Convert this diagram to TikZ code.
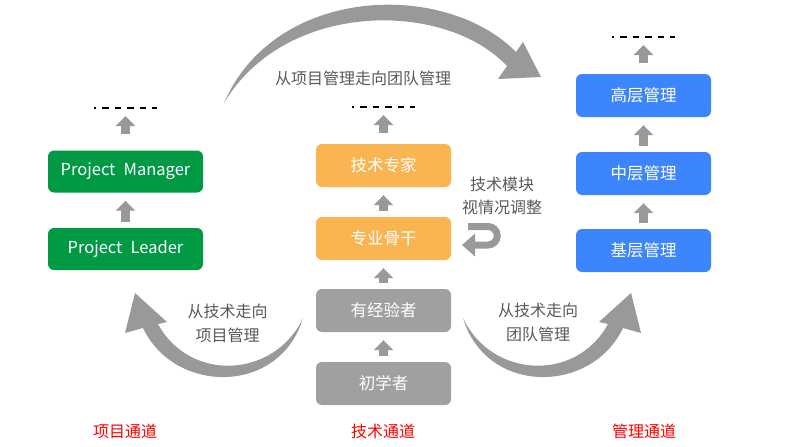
\documentclass[tikz,border=0pt]{standalone}
\usepackage{fontspec}
\setmainfont{Noto Sans CJK SC}
\usetikzlibrary{arrows.meta}
\definecolor{pmGreen}{HTML}{009944}
\definecolor{techOrange}{HTML}{F8B551}
\definecolor{techGray}{HTML}{A0A0A0}
\definecolor{mgmtBlue}{HTML}{3D85FD}
\definecolor{arrowGray}{HTML}{999999}
\definecolor{noteGray}{HTML}{595959}

\begin{document}
\begin{tikzpicture}[x=1pt, y=-1pt,
    stageBox/.style={rectangle, rounded corners=6pt, minimum width=135pt, minimum height=43pt, inner sep=0pt, text=white, font=\fontsize{16.5}{19}\selectfont},
    pmBox/.style={stageBox, fill=pmGreen, minimum width=155pt, minimum height=42pt},
    techBox/.style={stageBox, fill=techOrange},
    baseBox/.style={stageBox, fill=techGray},
    mgmtBox/.style={stageBox, fill=mgmtBlue},
    upArrow/.style={draw=arrowGray, line width=9pt, -{Triangle[length=10pt,width=19pt]}, shorten <=6pt, shorten >=8pt},
    dashLine/.style={draw=black, line width=1.1pt, dash pattern=on 6.5pt off 6pt, dash phase=4.5pt},
    noteText/.style={text=noteGray, align=center, font=\fontsize{16}{23.5}\selectfont},
    chanText/.style={text=red, font=\fontsize{16}{19}\selectfont}
]
    \useasboundingbox (0,0) rectangle (795,447);

    % project channel
    \node[pmBox] (pm) at (125.5,171.5) {Project\hspace{0.5em}Manager};
    \node[pmBox] (pl) at (125.5,249) {Project\hspace{0.5em}Leader};
    \coordinate (pmTop) at (125.5,108);

    % technical channel
    \node[techBox] (expert) at (383.5,165.5) {技术专家};
    \node[techBox] (core) at (383.5,238.5) {专业骨干};
    \node[baseBox] (senior) at (383.5,310.5) {有经验者};
    \node[baseBox] (novice) at (383.5,383.5) {初学者};
    \coordinate (expertTop) at (383.5,107);

    % management channel
    \node[mgmtBox] (high) at (643.5,95.5) {高层管理};
    \node[mgmtBox] (middle) at (643.5,173.5) {中层管理};
    \node[mgmtBox] (basic) at (643.5,250.5) {基层管理};
    \coordinate (highTop) at (643.5,37);

    \draw[upArrow] (pl) -- (pm);
    \draw[upArrow, shorten <=16pt] (pm) -- (pmTop);
    \draw[upArrow] (novice) -- (senior);
    \draw[upArrow] (senior) -- (core);
    \draw[upArrow] (core) -- (expert);
    \draw[upArrow, shorten <=11pt] (expert) -- (expertTop);
    \draw[upArrow] (basic) -- (middle);
    \draw[upArrow] (middle) -- (high);
    \draw[upArrow, shorten <=11pt] (high) -- (highTop);

    \draw[dashLine] ([xshift=-31.5pt]pmTop) -- ([xshift=31.5pt]pmTop);
    \draw[dashLine] ([xshift=-31.5pt]expertTop) -- ([xshift=31.5pt]expertTop);
    \draw[dashLine] ([xshift=-31.5pt]highTop) -- ([xshift=31.5pt]highTop);

    % big curved arrows
    \fill[arrowGray] (224,103) .. controls (275,-15) and (445,-20) .. (516,52) -- (523,42) -- (541,77) -- (498,79) -- (507,66) .. controls (445,0) and (285,0) .. cycle;
    \fill[arrowGray] (303,318) .. controls (280,395) and (175,395) .. (143,328) -- (125,333) -- (135,293) -- (167,322) -- (158,324) .. controls (190,383) and (275,378) .. cycle;
    \fill[arrowGray] (463,318) .. controls (486,395) and (591,395) .. (623,328) -- (641,333) -- (631,293) -- (599,322) -- (608,324) .. controls (576,383) and (491,378) .. cycle;

    % u-turn
    \draw[draw=arrowGray, line width=7pt, -{Triangle[length=13pt,width=22pt]}] (468,226.5) -- (488,226.5) arc[start angle=90, end angle=-90, radius=9.25pt] -- (462,245);

    \node[noteText] (topNote) at (363,78) {从项目管理走向团队管理};
    \node[noteText] (leftNote) at (227.5,323.5) {从技术走向\\项目管理};
    \node[noteText] (rightNote) at (538,322.5) {从技术走向\\团队管理};
    \node[noteText] (adjustNote) at (502,196) {技术模块\\视情况调整};

    \node[chanText] (pmChan) at (125,431) {项目通道};
    \node[chanText] (techChan) at (383,431) {技术通道};
    \node[chanText] (mgmtChan) at (644,431) {管理通道};
\end{tikzpicture}
\end{document}
